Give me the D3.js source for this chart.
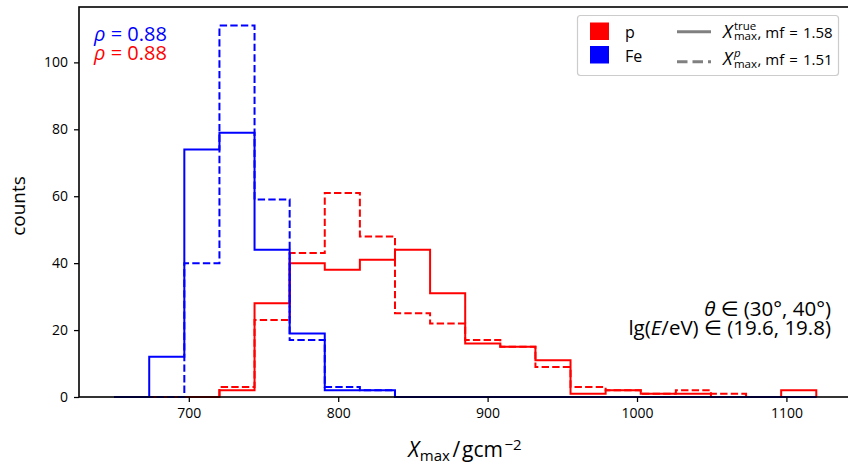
<!DOCTYPE html>
<html>
<head>
<meta charset="utf-8">
<script src="https://cdn.jsdelivr.net/npm/d3@7"></script>
<style>
  html, body { margin: 0; padding: 0; background: #fff; }
  svg text { font-family: "Open Sans", "DejaVu Sans", sans-serif; }
</style>
</head>
<body>
<svg id="chart" width="848" height="465"></svg>
<script>
// Histogram bin edges (g/cm^2), shared by all four histograms
const binEdges = [650, 673.5, 697, 720.5, 744, 767.5, 791, 814.5, 838, 861.5, 885,
                  908.5, 932, 955.5, 979, 1002.5, 1026, 1049.5, 1073, 1096.5, 1120];

// Counts per bin
const pTrue  = [0, 0, 0, 2, 28, 40, 38, 41, 44, 31, 16, 15, 11, 1, 2, 1, 1, 0, 0, 2];
const pReco  = [0, 0, 0, 3, 23, 43, 61, 48, 25, 22, 17, 15, 9, 3, 2, 1, 2, 1, 0, 0];
const feTrue = [0, 12, 74, 79, 44, 19, 2, 2, 0, 0, 0, 0, 0, 0, 0, 0, 0, 0, 0, 0];
const feReco = [0, 0, 40, 111, 59, 17, 3, 2, 0, 0, 0, 0, 0, 0, 0, 0, 0, 0, 0, 0];

const xTicks = [700, 800, 900, 1000, 1100];
const yTicks = [0, 20, 40, 60, 80, 100];

const svg = d3.select("#chart");
const plotLeft = 79, plotRight = 851.4, plotTop = 7, plotBottom = 397;

const x = d3.scaleLinear().domain([626.5, 1143.5]).range([plotLeft, plotRight]);
const y = d3.scaleLinear().domain([0, 116.55]).range([plotBottom, plotTop]);

// Step outline of a histogram, starting and ending on the baseline
function stepPoints(counts) {
  const pts = [[binEdges[0], 0]];
  counts.forEach((c, i) => {
    pts.push([binEdges[i], c]);
    pts.push([binEdges[i + 1], c]);
  });
  pts.push([binEdges[binEdges.length - 1], 0]);
  return pts;
}
const line = d3.line().x(d => x(d[0])).y(d => y(d[1]));

const series = [
  { counts: pTrue,  color: "#ff0000", dash: null },
  { counts: pReco,  color: "#ff0000", dash: "7.4,3.2" },
  { counts: feTrue, color: "#0000ff", dash: null },
  { counts: feReco, color: "#0000ff", dash: "7.4,3.2" }
];

const plot = svg.append("g");
series.forEach(s => {
  plot.append("path")
    .attr("d", line(stepPoints(s.counts)))
    .attr("fill", "none")
    .attr("stroke", s.color)
    .attr("stroke-width", 2)
    .attr("stroke-dasharray", s.dash);
});

// Axes
const fmt = d3.format("d");
const xAxis = d3.axisBottom(x).tickValues(xTicks).tickFormat(fmt).tickSize(5).tickPadding(6);
const yAxis = d3.axisLeft(y).tickValues(yTicks).tickFormat(fmt).tickSize(5).tickPadding(6);

const gx = svg.append("g").attr("transform", `translate(0,${plotBottom})`).call(xAxis);
const gy = svg.append("g").attr("transform", `translate(${plotLeft},0)`).call(yAxis);
[gx, gy].forEach(g => {
  g.select(".domain").remove();
  g.selectAll(".tick line").attr("stroke", "#000").attr("stroke-width", 1.25);
  g.selectAll(".tick text").attr("fill", "#000").style("font-size", "14px");
});

// Frame
svg.append("rect")
  .attr("x", plotLeft).attr("y", plotTop)
  .attr("width", plotRight - plotLeft).attr("height", plotBottom - plotTop)
  .attr("fill", "none").attr("stroke", "#000").attr("stroke-width", 1.6);

// Text width helper
function measure(str, size, italic) {
  const t = svg.append("text").style("font-size", size + "px")
    .style("font-style", italic ? "italic" : "normal").text(str);
  const w = t.node().getComputedTextLength();
  t.remove();
  return w;
}

// One <text> made of positioned runs: sub/superscripts can be stacked on the same x
function mathText(parent, x0, y0, parts, color, anchor) {
  let cursor = 0, prevStart = 0;
  const laid = parts.map(p => {
    const w = measure(p.text, p.size, p.italic);
    let start;
    if (p.stack) { start = prevStart; cursor = Math.max(cursor, start + w); }
    else { start = cursor + (p.gap || 0); cursor = start + w; }
    prevStart = start;
    return { ...p, start };
  });
  const shift = anchor === "middle" ? -cursor / 2 : anchor === "end" ? -cursor : 0;
  const t = parent.append("text").attr("fill", color);
  laid.forEach(p => {
    t.append("tspan")
      .attr("x", x0 + shift + p.start)
      .attr("y", y0 + (p.off || 0))
      .style("font-size", p.size + "px")
      .style("font-style", p.italic ? "italic" : "normal")
      .text(p.text);
  });
  return t;
}

// Axis titles
mathText(svg, 465, 457, [
  { text: "X", size: 21, italic: true },
  { text: "max", size: 15, off: 3.5, gap: 0.5 },
  { text: "/", size: 21, gap: 2.5 },
  { text: "gcm", size: 21, gap: 2 },
  { text: "−2", size: 15, off: -7.5, gap: 1.5 }
], "#000", "middle");

svg.append("text")
  .attr("transform", "translate(25,206) rotate(-90)")
  .attr("text-anchor", "middle")
  .style("font-size", "19px")
  .attr("fill", "#000")
  .text("counts");

// Correlation coefficients
const rho = svg.append("text").style("font-size", "20px");
rho.append("tspan").attr("x", 94).attr("y", 41).attr("fill", "#0000ff")
  .html('<tspan font-style="italic">ρ</tspan> = 0.88');
rho.append("tspan").attr("x", 94).attr("y", 60).attr("fill", "#ff0000")
  .html('<tspan font-style="italic">ρ</tspan> = 0.88');

// Phase-space annotation
const ann = svg.append("text").attr("text-anchor", "end").style("font-size", "20.5px").attr("fill", "#000");
ann.append("tspan").attr("x", 831).attr("y", 316)
  .html('<tspan font-style="italic">θ</tspan> ∈ (30°, 40°)');
ann.append("tspan").attr("x", 831).attr("y", 335)
  .html('lg(<tspan font-style="italic">E</tspan>/eV) ∈ (19.6, 19.8)');

// Legend
const leg = svg.append("g");
leg.append("rect")
  .attr("x", 577.5).attr("y", 15.5).attr("width", 261).attr("height", 60)
  .attr("rx", 3).attr("fill", "#fff").attr("fill-opacity", 0.8)
  .attr("stroke", "#cccccc").attr("stroke-width", 1.2);

const legendSpecies = [
  { label: "p", color: "#ff0000" },
  { label: "Fe", color: "#0000ff" }
];
legendSpecies.forEach((d, i) => {
  leg.append("rect").attr("x", 590).attr("y", 22.5 + i * 23.5)
    .attr("width", 19).attr("height", 17.5).attr("fill", d.color);
  leg.append("text").attr("x", 625).attr("y", 38 + i * 23.7)
    .style("font-size", "16px").attr("fill", "#000").text(d.label);
});

const legendStyles = [
  { dash: null, sup: "true", supItalic: false, mf: "1.58", ly: 31.7, ty: 37.5 },
  { dash: "10.5,5", sup: "p", supItalic: true, mf: "1.51", ly: 61.7, ty: 65 }
];
legendStyles.forEach(d => {
  leg.append("line").attr("x1", 677).attr("x2", 711).attr("y1", d.ly).attr("y2", d.ly)
    .attr("stroke", "#808080").attr("stroke-width", 3)
    .attr("stroke-dasharray", d.dash);
  mathText(leg, 723, d.ty, [
    { text: "X", size: 18, italic: true },
    { text: d.sup, size: 11.5, italic: d.supItalic, off: -8, gap: 1.5 },
    { text: "max", size: 11.5, off: 2.5, stack: true },
    { text: ",", size: 15, gap: 0.5 },
    { text: "mf", size: 15, gap: 4 },
    { text: "=", size: 15, gap: 5 },
    { text: d.mf, size: 15, gap: 5 }
  ], "#000", "start");
});
</script>
</body>
</html>
